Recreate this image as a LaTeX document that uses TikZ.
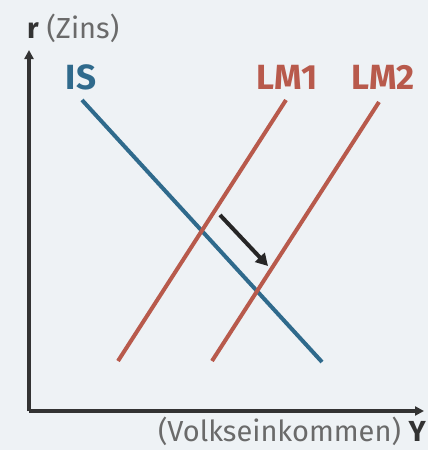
\documentclass[tikz,border=0pt]{standalone}
\usepackage{fontspec}
\setmainfont{Fira Sans}
\usetikzlibrary{arrows.meta}
\definecolor{bg}{HTML}{EEF2F5}
\definecolor{isblue}{HTML}{2F6A8C}
\definecolor{lmred}{HTML}{B85A4C}
\definecolor{axis}{HTML}{333333}
\definecolor{txtgray}{HTML}{6A6A6A}
\tikzset{
  axisline/.style={draw=axis, line width=4.5pt, -{Triangle[length=9pt,width=9pt]}},
  curve/.style={line width=4pt},
  curvelabel/.style={font=\fontsize{35}{38}\selectfont\bfseries, inner sep=0pt},
  axislabel/.style={font=\fontsize{29}{31}\selectfont, inner sep=0pt, text=txtgray},
  shiftarrow/.style={draw=black!85, line width=4pt, -{Triangle[length=12pt,width=13pt]}}
}
\begin{document}
\begin{tikzpicture}[x=1pt,y=-1pt]
\fill[bg] (0,0) rectangle (428,450);
\useasboundingbox (0,0) rectangle (428,450);
\coordinate (O) at (29,411);
\coordinate (ytop) at (29,50);
\coordinate (xend) at (424,411);
\draw[axisline] (O) -- (ytop);
\draw[axisline] (O) -- (xend);
\node[axislabel, anchor=west] (ylab) at (27,28) {\textbf{\textcolor{axis}{r}} (Zins)};
\node[axislabel, anchor=base east] (xlab) at (426,441) {(Volkseinkommen) \textbf{\textcolor{axis}{Y}}};
\coordinate (is1) at (82,100);
\coordinate (is2) at (322,362);
\coordinate (lma1) at (286,100);
\coordinate (lma2) at (118,361);
\coordinate (lmb1) at (379,102);
\coordinate (lmb2) at (212,361);
\draw[curve, isblue] (is1) -- (is2);
\draw[curve, lmred] (lma1) -- (lma2);
\draw[curve, lmred] (lmb1) -- (lmb2);
\node[curvelabel, text=isblue] (islab) at (81,77) {IS};
\node[curvelabel, text=lmred] (lm1lab) at (287,77) {LM1};
\node[curvelabel, text=lmred] (lm2lab) at (383,77) {LM2};
\coordinate (a1) at (220,215);
\coordinate (a2) at (268,266);
\draw[shiftarrow] (a1) -- (a2);
\end{tikzpicture}
\end{document}
